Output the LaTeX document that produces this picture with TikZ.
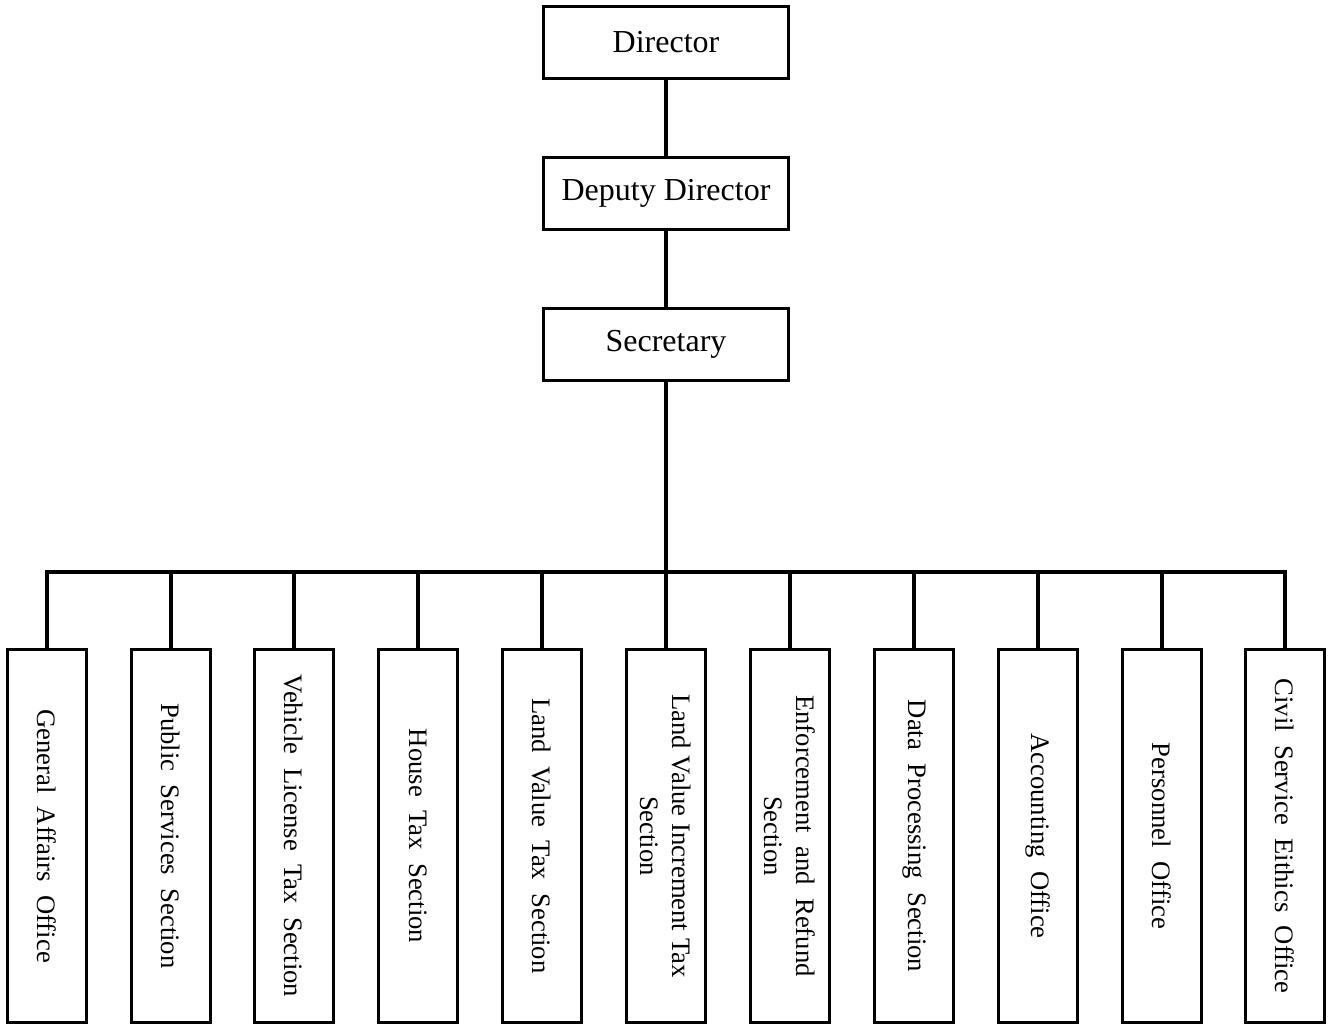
\documentclass[tikz,border=0pt]{standalone}
\usepackage{fontspec}
\setmainfont{Liberation Serif}
\begin{document}
\begin{tikzpicture}[x=0.75pt, y=-0.75pt]
    \tikzstyle{every node}=[align=center]
    \tikzset{
        box/.style={draw, line width=2.5pt, minimum width=183.75pt, minimum height=54pt, font=\fontsize{24}{28}\selectfont},
        sect/.style={draw, line width=2.5pt, rotate=-90, minimum width=279.75pt, minimum height=59.25pt, font=\fontsize{20}{24}\selectfont},
        link/.style={line width=2.4pt}
        }
    \useasboundingbox (0,0) rectangle (1330,1026);

    %head
    \node (director) [box] at (666,42.5) {Director};
    \node (deputy) [box, below of=director, node distance=113.25pt] {Deputy Director};
    \node (secretary) [box, below of=deputy, node distance=113.25pt] {Secretary};

    %sections
    \node (general) [sect] at (47,836) {General\enspace Affairs\enspace Office};
    \node (public) [sect] at (171,836) {Public\enspace Services\enspace Section};
    \node (vehicle) [sect] at (294,836) {Vehicle\enspace License\enspace Tax\enspace Section};
    \node (house) [sect] at (418,836) {House\enspace Tax\enspace Section};
    \node (landvalue) [sect] at (542,836) {Land\enspace Value\enspace Tax\enspace Section};
    \node (increment) [sect] at (666,836) {Land Value Increment Tax\\Section};
    \node (refund) [sect] at (790,836) {Enforcement\enspace and\enspace Refund\\Section};
    \node (data) [sect] at (914,836) {Data\enspace Processing\enspace Section};
    \node (accounting) [sect] at (1038,836) {Accounting\enspace Office};
    \node (personnel) [sect] at (1162,836) {Personnel\enspace Office};
    \node (ethics) [sect] at (1285,836) {Civil\enspace Service\enspace Eithics\enspace Office};

    \draw[link] (director) -- (deputy);
    \draw[link] (deputy) -- (secretary);

    %bus
    \coordinate (bus) at (666,572);
    \draw[link] (secretary) -- (bus);
    \draw[link] (bus) -| (general.west);
    \draw[link] (bus) -| (public.west);
    \draw[link] (bus) -| (vehicle.west);
    \draw[link] (bus) -| (house.west);
    \draw[link] (bus) -| (landvalue.west);
    \draw[link] (bus) -- (increment.west);
    \draw[link] (bus) -| (refund.west);
    \draw[link] (bus) -| (data.west);
    \draw[link] (bus) -| (accounting.west);
    \draw[link] (bus) -| (personnel.west);
    \draw[link] (bus) -| (ethics.west);
\end{tikzpicture}
\end{document}
